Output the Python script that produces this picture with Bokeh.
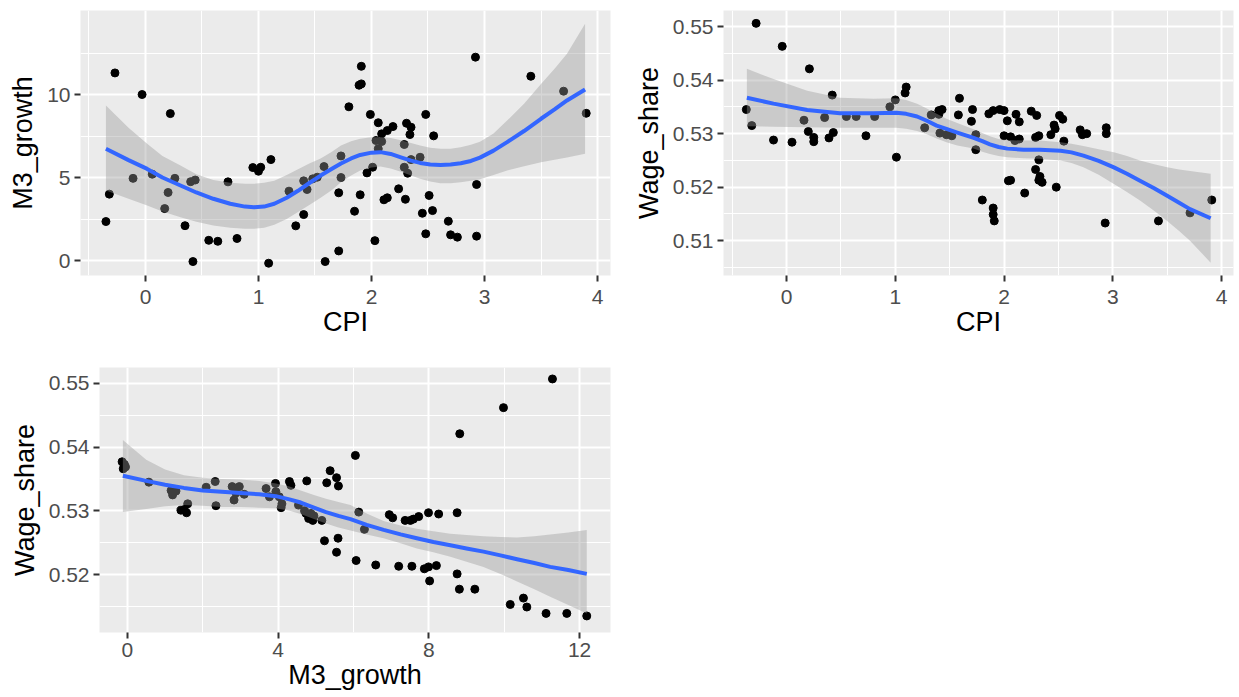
from bokeh.plotting import figure
from bokeh.models import Range1d, FixedTicker
from bokeh.layouts import column, row
from bokeh.embed import file_html
from bokeh.resources import INLINE

# ---------------- data: panel 1 (CPI vs M3_growth) ----------------
cpi_a = [-0.27, -0.03, 0.22, -0.35, -0.32, -0.11, 0.06, 0.20, 0.17, 0.26, 0.35, 0.40, 0.44, 0.42,
         0.56, 0.64, 0.73, 0.81, 0.95, 1.02, 1.00, 1.11, 1.09, 1.27, 1.33, 1.40, 1.40, 1.43, 1.48,
         1.52, 1.58, 1.59, 1.71, 1.71, 1.73, 1.73, 1.80, 1.91, 1.89, 1.91, 1.99, 2.06, 2.19, 2.14,
         2.09, 2.04, 2.09, 2.06, 2.31, 2.35, 2.34, 2.48, 2.55, 2.29, 2.43, 2.35, 2.01, 1.96, 2.29,
         2.32, 1.90, 1.85, 2.11, 2.14, 2.24, 2.30, 2.51, 2.45, 2.54, 2.68, 2.48, 2.70, 2.76, 2.93,
         2.93, 2.92, 2.03, 3.41, 3.70, 3.90]
m3_a = [11.3, 10.0, 8.85, 2.35, 4.0, 4.95, 5.2, 4.1, 3.13, 4.95, 2.1, 4.75, 4.85, -0.06,
        1.22, 1.16, 4.74, 1.33, 5.6, 5.62, 5.38, 6.08, -0.16, 4.18, 2.09, 2.77, 4.8, 4.28, 4.92,
        5.02, 5.66, -0.06, 0.58, 4.08, 6.3, 5.0, 9.26, 11.7, 10.56, 10.64, 8.8, 8.3, 8.07, 7.83,
        7.63, 7.23, 7.17, 6.73, 8.27, 8.03, 7.59, 8.8, 7.51, 6.99, 6.22, 6.08, 5.62, 5.28, 5.62,
        5.26, 3.96, 2.97, 3.66, 3.78, 4.32, 3.69, 3.92, 2.85, 3.01, 2.37, 1.61, 1.55, 1.41, 1.47,
        4.58, 12.25, 1.2, 11.1, 10.2, 8.87]
smooth_a_x = [-0.35, -0.15, 0.015, 0.15, 0.31, 0.45, 0.60, 0.75, 0.88, 0.96, 1.05, 1.14, 1.25,
              1.35, 1.45, 1.55, 1.65, 1.73, 1.82, 1.90, 2.00, 2.08, 2.17, 2.26, 2.35, 2.43, 2.52,
              2.61, 2.70, 2.79, 2.88, 2.96, 3.08, 3.20, 3.35, 3.50, 3.62, 3.73, 3.89]
smooth_a_y = [6.73, 6.05, 5.52, 5.00, 4.52, 4.10, 3.72, 3.42, 3.25, 3.21, 3.25, 3.42, 3.78,
              4.20, 4.67, 5.12, 5.53, 5.85, 6.15, 6.36, 6.50, 6.53, 6.42, 6.22, 6.02, 5.88, 5.79,
              5.76, 5.78, 5.86, 6.00, 6.20, 6.62, 7.13, 7.80, 8.54, 9.10, 9.64, 10.30]
smooth_a_hi = [9.34, 8.00, 7.03, 6.30, 5.72, 5.20, 4.85, 4.68, 4.62, 4.62, 4.68, 4.80, 5.15,
               5.50, 5.85, 6.15, 6.55, 6.93, 7.18, 7.33, 7.42, 7.43, 7.38, 7.25, 7.08, 6.93, 6.80,
               6.73, 6.74, 6.82, 6.98, 7.15, 7.65, 8.43, 9.45, 10.64, 11.55, 12.45, 14.26]
smooth_a_lo = [4.22, 3.72, 3.31, 2.95, 2.61, 2.33, 2.11, 1.98, 1.92, 1.91, 1.98, 2.15, 2.50,
               2.92, 3.35, 3.78, 4.25, 4.72, 5.12, 5.42, 5.60, 5.66, 5.55, 5.35, 5.12, 4.92, 4.76,
               4.66, 4.66, 4.72, 4.80, 4.90, 5.15, 5.42, 5.68, 5.92, 6.07, 6.20, 6.43]

# ---------------- data: panel 2 (CPI vs Wage_share) ----------------
cpi_b = [-0.28, -0.04, 0.21, -0.37, -0.32, -0.12, 0.05, 0.16, 0.20, 0.25, 0.25, 0.35, 0.42, 0.39,
         0.43, 0.55, 0.64, 0.73, 0.81, 0.95, 1.00, 1.01, 1.10, 1.09, 1.27, 1.33, 1.40, 1.43, 1.40,
         1.41, 1.47, 1.52, 1.59, 1.58, 1.71, 1.70, 1.74, 1.74, 1.80, 1.90, 1.90, 1.91, 1.86, 1.90,
         1.96, 2.00, 2.03, 2.00, 2.06, 2.10, 2.14, 2.11, 2.14, 2.25, 2.30, 2.29, 2.32, 2.32, 2.29,
         2.04, 2.06, 2.32, 2.35, 2.33, 2.19, 2.48, 2.43, 2.46, 2.47, 2.51, 2.54, 2.55, 2.70, 2.72,
         2.76, 2.94, 2.94, 2.93, 3.42, 3.71, 3.91]
ws_b = [0.5506, 0.5463, 0.5421, 0.5345, 0.5315, 0.5288, 0.5284, 0.5325, 0.5304, 0.5293, 0.5285,
        0.5330, 0.5372, 0.5292, 0.5302, 0.5332, 0.5332, 0.5296, 0.5332, 0.5350, 0.5363, 0.5256,
        0.5387, 0.5376, 0.5311, 0.5335, 0.5343, 0.5345, 0.5336, 0.5301, 0.5298, 0.5296, 0.5366,
        0.5335, 0.5345, 0.5323, 0.5298, 0.5270, 0.5176, 0.5161, 0.5149, 0.5137, 0.5337, 0.5343,
        0.5345, 0.5343, 0.5324, 0.5296, 0.5294, 0.5287, 0.5290, 0.5336, 0.5322, 0.5342, 0.5334,
        0.5293, 0.5296, 0.5251, 0.5233, 0.5212, 0.5213, 0.5213, 0.5209, 0.5220, 0.5189, 0.5200,
        0.5298, 0.5316, 0.5309, 0.5334, 0.5327, 0.5286, 0.5307, 0.5298, 0.5300, 0.5311, 0.5300,
        0.5133, 0.5137, 0.5152, 0.5176]
smooth_b_x = [-0.365, -0.12, 0.19, 0.49, 0.80, 1.01, 1.10, 1.20, 1.29, 1.38, 1.47, 1.57, 1.72,
              1.80, 1.87, 1.95, 2.03, 2.18, 2.33, 2.52, 2.62, 2.73, 2.87, 3.01, 3.13, 3.25, 3.38,
              3.50, 3.61, 3.71, 3.90]
smooth_b_y = [0.5367, 0.5356, 0.5344, 0.5338, 0.5338, 0.5339, 0.5337, 0.5332, 0.5324, 0.5315,
              0.5309, 0.5302, 0.5292, 0.5286, 0.5280, 0.5275, 0.5272, 0.5270, 0.5270, 0.5268,
              0.5265, 0.5259, 0.5249, 0.5237, 0.5225, 0.5212, 0.5198, 0.5184, 0.5171, 0.5159, 0.5142]
smooth_b_hi = [0.5421, 0.5402, 0.5380, 0.5367, 0.5365, 0.5366, 0.5363, 0.5356, 0.5347, 0.5337,
               0.5328, 0.5320, 0.5308, 0.5301, 0.5295, 0.5290, 0.5288, 0.5287, 0.5287, 0.5284,
               0.5281, 0.5277, 0.5271, 0.5265, 0.5258, 0.5250, 0.5243, 0.5237, 0.5233, 0.5230, 0.5225]
smooth_b_lo = [0.5314, 0.5313, 0.5312, 0.5311, 0.5311, 0.5311, 0.5309, 0.5305, 0.5299, 0.5291,
               0.5284, 0.5278, 0.5272, 0.5266, 0.5262, 0.5258, 0.5256, 0.5254, 0.5253, 0.5250,
               0.5245, 0.5237, 0.5223, 0.5206, 0.5191, 0.5175, 0.5156, 0.5137, 0.5118, 0.5100, 0.5059]

# ---------------- data: panel 3 (M3_growth vs Wage_share) ----------------
m3_c = [-0.14, -0.08, -0.05, -0.11, 0.57, 1.16, 1.20, 1.29, 1.42, 1.51, 1.57, 1.60, 2.09, 2.33,
        2.35, 2.78, 2.97, 2.83, 2.88, 3.10, 3.68, 3.77, 3.93, 3.94, 4.03, 4.10, 4.08, 4.30, 4.34,
        4.76, 4.54, 4.74, 4.87, 4.81, 4.92, 4.70, 4.95, 5.16, 5.23, 5.59, 5.55, 6.05, 5.29, 5.38,
        5.55, 5.60, 6.07, 6.14, 6.29, 6.59, 6.95, 7.04, 7.20, 7.37, 7.51, 7.59, 7.73, 7.55, 7.88,
        7.99, 8.20, 8.02, 7.99, 8.26, 8.75, 8.75, 8.81, 9.22, 8.82, 9.98, 11.28, 10.16, 10.51,
        10.60, 11.11, 11.66, 12.19]
ws_c = [0.5377, 0.5373, 0.5369, 0.5366, 0.5345, 0.5332, 0.5325, 0.5331, 0.5301, 0.5302, 0.5297,
        0.5311, 0.5337, 0.5346, 0.5308, 0.5338, 0.5338, 0.5317, 0.5328, 0.5326, 0.5335, 0.5322,
        0.5343, 0.5330, 0.5322, 0.5311, 0.5305, 0.5346, 0.5340, 0.5347, 0.5309, 0.5296, 0.5296,
        0.5288, 0.5285, 0.5300, 0.5292, 0.5285, 0.5253, 0.5257, 0.5235, 0.5387, 0.5344, 0.5363,
        0.5352, 0.5339, 0.5222, 0.5298, 0.5271, 0.5215, 0.5294, 0.5289, 0.5213, 0.5285, 0.5285,
        0.5287, 0.5291, 0.5213, 0.5209, 0.5212, 0.5214, 0.5190, 0.5297, 0.5295, 0.5297, 0.5201,
        0.5177, 0.5177, 0.5421, 0.5462, 0.5507, 0.5153, 0.5163, 0.5149, 0.5139, 0.5139, 0.5135]
smooth_c_x = [-0.12, 0.5, 1.0, 1.5, 2.0, 2.5, 3.0, 3.5, 3.94, 4.3, 4.6, 4.95, 5.27, 5.6, 5.92,
              6.35, 6.80, 7.25, 7.68, 8.12, 8.57, 9.0, 9.45, 9.9, 10.34, 10.8, 11.22, 11.7, 12.19]
smooth_c_y = [0.5355, 0.5347, 0.5341, 0.5336, 0.5332, 0.5330, 0.5328, 0.5326, 0.5323, 0.5318,
              0.5313, 0.5305, 0.5298, 0.5292, 0.5287, 0.5278, 0.5270, 0.5263, 0.5257, 0.5251,
              0.5246, 0.5241, 0.5236, 0.5230, 0.5224, 0.5218, 0.5212, 0.5207, 0.5201]
smooth_c_hi = [0.5411, 0.5380, 0.5365, 0.5356, 0.5352, 0.5350, 0.5349, 0.5347, 0.5343, 0.5338,
               0.5332, 0.5325, 0.5319, 0.5314, 0.5309, 0.5296, 0.5284, 0.5277, 0.5272, 0.5268,
               0.5264, 0.5262, 0.5260, 0.5259, 0.5258, 0.5260, 0.5263, 0.5266, 0.5270]
smooth_c_lo = [0.5298, 0.5303, 0.5307, 0.5309, 0.5308, 0.5306, 0.5306, 0.5305, 0.5304, 0.5300,
               0.5295, 0.5287, 0.5280, 0.5274, 0.5269, 0.5263, 0.5257, 0.5249, 0.5241, 0.5235,
               0.5228, 0.5220, 0.5212, 0.5201, 0.5189, 0.5177, 0.5165, 0.5152, 0.5139]

# ---------------- ticks ----------------
cpi_ticks = [0, 1, 2, 3, 4]
cpi_minor = [-0.5, 0.5, 1.5, 2.5, 3.5]
m3_ticks_y = [0, 5, 10]
m3_minor_y = [-2.5, 2.5, 7.5, 12.5]
ws_ticks_b = [0.51, 0.52, 0.53, 0.54, 0.55]
ws_minor_b = [0.505, 0.515, 0.525, 0.535, 0.545]
m3_ticks_x = [0, 4, 8, 12]
m3_minor_x = [-2, 2, 6, 10, 14]
ws_ticks_c = [0.52, 0.53, 0.54, 0.55]
ws_minor_c = [0.515, 0.525, 0.535, 0.545]

FONT = "Liberation Sans"


def make_panel(width, height, borders, xr, yr, xt, xm, yt, ym, xlabel, ylabel,
               px, py, sx, sy, shi, slo, xstand):
    left, right, top, bottom = borders
    p = figure(width=width, height=height, output_backend="svg", toolbar_location=None,
               x_range=Range1d(*xr), y_range=Range1d(*yr),
               min_border_left=left, min_border_right=right,
               min_border_top=top, min_border_bottom=bottom)
    p.background_fill_color = "#EBEBEB"
    p.border_fill_color = "white"
    p.outline_line_color = None
    p.xaxis.ticker = FixedTicker(ticks=xt, minor_ticks=xm)
    p.yaxis.ticker = FixedTicker(ticks=yt, minor_ticks=ym)
    p.xgrid.ticker = FixedTicker(ticks=xt, minor_ticks=xm)
    p.ygrid.ticker = FixedTicker(ticks=yt, minor_ticks=ym)
    for g in (p.xgrid, p.ygrid):
        g.grid_line_color = "white"
        g.grid_line_width = 2
        g.minor_grid_line_color = "white"
        g.minor_grid_line_width = 1
    for ax in p.axis:
        ax.axis_line_color = None
        ax.major_tick_line_color = "#333333"
        ax.major_tick_line_width = 2
        ax.major_tick_out = 6
        ax.major_tick_in = 0
        ax.minor_tick_line_color = None
        ax.major_label_text_font = FONT
        ax.major_label_text_font_size = "21px"
        ax.major_label_text_color = "#4D4D4D"
        ax.axis_label_text_font = FONT
        ax.axis_label_text_font_size = "27px"
        ax.axis_label_text_font_style = "normal"
        ax.axis_label_text_color = "black"
    p.xaxis.major_label_standoff = xstand
    p.yaxis.major_label_standoff = 4
    p.xaxis.axis_label_standoff = 0
    p.yaxis.axis_label_standoff = 6
    p.xaxis.axis_label = xlabel
    p.yaxis.axis_label = ylabel

    p.scatter(px, py, size=8, fill_color="black", line_color="black")
    p.varea(x=sx, y1=slo, y2=shi, fill_color="#999999", fill_alpha=0.4)
    p.line(sx, sy, line_color="#3366FF", line_width=4, line_join="round")
    return p


p1 = make_panel(615, 350, (80, 5, 10, 75), (-0.575, 4.115), (-0.9, 15.06),
                cpi_ticks, cpi_minor, m3_ticks_y, m3_minor_y, "CPI", "M3_growth",
                cpi_a, m3_a, smooth_a_x, smooth_a_y, smooth_a_hi, smooth_a_lo, 8)
p2 = make_panel(623, 350, (108, 5, 10, 75), (-0.58, 4.11), (0.5035, 0.553),
                cpi_ticks, cpi_minor, ws_ticks_b, ws_minor_b, "CPI", "Wage_share",
                cpi_b, ws_b, smooth_b_x, smooth_b_y, smooth_b_hi, smooth_b_lo, 8)
p3 = make_panel(615, 346, (99, 5, 17, 64), (-0.74, 12.82), (0.5109, 0.5525),
                m3_ticks_x, m3_minor_x, ws_ticks_c, ws_minor_c, "M3_growth", "Wage_share",
                m3_c, ws_c, smooth_c_x, smooth_c_y, smooth_c_hi, smooth_c_lo, 4)

layout = column(row(p1, p2), p3)
open("out.html", "w").write(file_html(layout, INLINE))
